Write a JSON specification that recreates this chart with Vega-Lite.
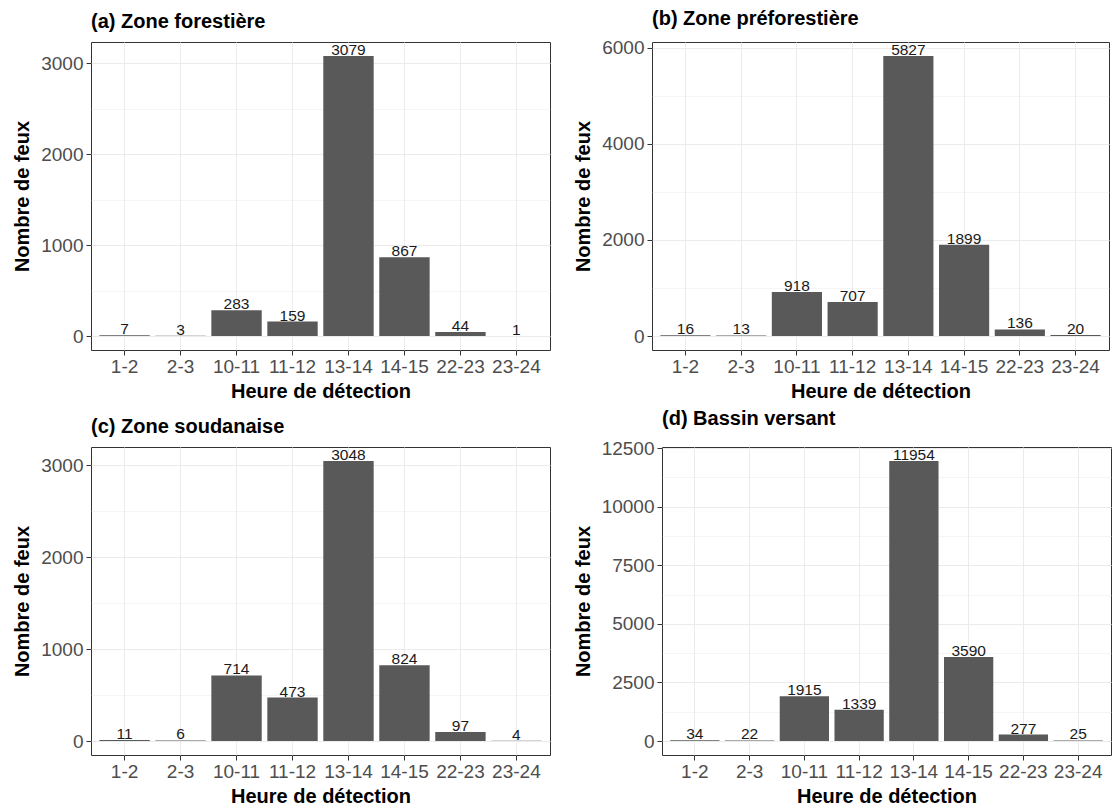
{
  "$schema": "https://vega.github.io/schema/vega-lite/v6.json",
  "padding": {"left": 12, "top": 8, "right": 0, "bottom": 2},
  "background": "white",
  "data": {"values": [
    {"panel": "a", "heure": "1-2", "n": 7}, {"panel": "a", "heure": "2-3", "n": 3}, {"panel": "a", "heure": "10-11", "n": 283}, {"panel": "a", "heure": "11-12", "n": 159},
    {"panel": "a", "heure": "13-14", "n": 3079}, {"panel": "a", "heure": "14-15", "n": 867}, {"panel": "a", "heure": "22-23", "n": 44}, {"panel": "a", "heure": "23-24", "n": 1},
    {"panel": "b", "heure": "1-2", "n": 16}, {"panel": "b", "heure": "2-3", "n": 13}, {"panel": "b", "heure": "10-11", "n": 918}, {"panel": "b", "heure": "11-12", "n": 707},
    {"panel": "b", "heure": "13-14", "n": 5827}, {"panel": "b", "heure": "14-15", "n": 1899}, {"panel": "b", "heure": "22-23", "n": 136}, {"panel": "b", "heure": "23-24", "n": 20},
    {"panel": "c", "heure": "1-2", "n": 11}, {"panel": "c", "heure": "2-3", "n": 6}, {"panel": "c", "heure": "10-11", "n": 714}, {"panel": "c", "heure": "11-12", "n": 473},
    {"panel": "c", "heure": "13-14", "n": 3048}, {"panel": "c", "heure": "14-15", "n": 824}, {"panel": "c", "heure": "22-23", "n": 97}, {"panel": "c", "heure": "23-24", "n": 4},
    {"panel": "d", "heure": "1-2", "n": 34}, {"panel": "d", "heure": "2-3", "n": 22}, {"panel": "d", "heure": "10-11", "n": 1915}, {"panel": "d", "heure": "11-12", "n": 1339},
    {"panel": "d", "heure": "13-14", "n": 11954}, {"panel": "d", "heure": "14-15", "n": 3590}, {"panel": "d", "heure": "22-23", "n": 277}, {"panel": "d", "heure": "23-24", "n": 25}
  ]},
  "spacing": 6,
  "vconcat": [
    {"spacing": 22, "hconcat": [
      {
        "title": {"text": "(a) Zone forestière"},
        "width": 459, "height": 308,
        "transform": [{"filter": "datum.panel === 'a'"}],
        "resolve": {"axis": {"y": "independent"}},
        "layer": [
          {"mark": {"type": "bar", "color": "#595959"},
           "encoding": {
             "x": {"field": "heure", "type": "nominal", "sort": ["1-2","2-3","10-11","11-12","13-14","14-15","22-23","23-24"], "scale": {"paddingInner": 0.1, "paddingOuter": 0.15}, "title": "Heure de détection"},
             "y": {"field": "n", "type": "quantitative", "scale": {"domain": [-153.95, 3232.95], "nice": false, "zero": false}, "axis": {"values": [0, 1000, 2000, 3000], "format": "d"}, "title": "Nombre de feux"},
             "y2": {"datum": 0}}},
          {"mark": {"type": "text", "baseline": "alphabetic", "dy": -1, "fontSize": 15.5, "font": "Liberation Sans", "color": "#1a1a1a"},
           "encoding": {
             "x": {"field": "heure", "type": "nominal", "sort": ["1-2","2-3","10-11","11-12","13-14","14-15","22-23","23-24"]},
             "y": {"field": "n", "type": "quantitative", "axis": {"orient": "right", "values": [500, 1500, 2500], "labels": false, "ticks": false, "domain": false, "title": null, "grid": true, "gridWidth": 0.5}},
             "text": {"field": "n", "type": "quantitative"}}}
        ]
      },
      {
        "title": {"text": "(b) Zone préforestière"},
        "width": 457, "height": 308,
        "transform": [{"filter": "datum.panel === 'b'"}],
        "resolve": {"axis": {"y": "independent"}},
        "layer": [
          {"mark": {"type": "bar", "color": "#595959"},
           "encoding": {
             "x": {"field": "heure", "type": "nominal", "sort": ["1-2","2-3","10-11","11-12","13-14","14-15","22-23","23-24"], "scale": {"paddingInner": 0.1, "paddingOuter": 0.15}, "title": "Heure de détection"},
             "y": {"field": "n", "type": "quantitative", "scale": {"domain": [-291.35, 6118.35], "nice": false, "zero": false}, "axis": {"values": [0, 2000, 4000, 6000], "format": "d"}, "title": "Nombre de feux"},
             "y2": {"datum": 0}}},
          {"mark": {"type": "text", "baseline": "alphabetic", "dy": -1, "fontSize": 15.5, "font": "Liberation Sans", "color": "#1a1a1a"},
           "encoding": {
             "x": {"field": "heure", "type": "nominal", "sort": ["1-2","2-3","10-11","11-12","13-14","14-15","22-23","23-24"]},
             "y": {"field": "n", "type": "quantitative", "axis": {"orient": "right", "values": [1000, 3000, 5000], "labels": false, "ticks": false, "domain": false, "title": null, "grid": true, "gridWidth": 0.5}},
             "text": {"field": "n", "type": "quantitative"}}}
        ]
      }
    ]},
    {"spacing": 21, "hconcat": [
      {
        "title": {"text": "(c) Zone soudanaise"},
        "width": 459, "height": 308,
        "transform": [{"filter": "datum.panel === 'c'"}],
        "resolve": {"axis": {"y": "independent"}},
        "layer": [
          {"mark": {"type": "bar", "color": "#595959"},
           "encoding": {
             "x": {"field": "heure", "type": "nominal", "sort": ["1-2","2-3","10-11","11-12","13-14","14-15","22-23","23-24"], "scale": {"paddingInner": 0.1, "paddingOuter": 0.15}, "title": "Heure de détection"},
             "y": {"field": "n", "type": "quantitative", "scale": {"domain": [-152.4, 3200.4], "nice": false, "zero": false}, "axis": {"values": [0, 1000, 2000, 3000], "format": "d"}, "title": "Nombre de feux"},
             "y2": {"datum": 0}}},
          {"mark": {"type": "text", "baseline": "alphabetic", "dy": -1, "fontSize": 15.5, "font": "Liberation Sans", "color": "#1a1a1a"},
           "encoding": {
             "x": {"field": "heure", "type": "nominal", "sort": ["1-2","2-3","10-11","11-12","13-14","14-15","22-23","23-24"]},
             "y": {"field": "n", "type": "quantitative", "axis": {"orient": "right", "values": [500, 1500, 2500], "labels": false, "ticks": false, "domain": false, "title": null, "grid": true, "gridWidth": 0.5}},
             "text": {"field": "n", "type": "quantitative"}}}
        ]
      },
      {
        "title": {"text": "(d) Bassin versant"},
        "width": 449, "height": 308,
        "transform": [{"filter": "datum.panel === 'd'"}],
        "resolve": {"axis": {"y": "independent"}},
        "layer": [
          {"mark": {"type": "bar", "color": "#595959"},
           "encoding": {
             "x": {"field": "heure", "type": "nominal", "sort": ["1-2","2-3","10-11","11-12","13-14","14-15","22-23","23-24"], "scale": {"paddingInner": 0.1, "paddingOuter": 0.15}, "title": "Heure de détection"},
             "y": {"field": "n", "type": "quantitative", "scale": {"domain": [-597.7, 12551.7], "nice": false, "zero": false}, "axis": {"values": [0, 2500, 5000, 7500, 10000, 12500], "format": "d"}, "title": "Nombre de feux"},
             "y2": {"datum": 0}}},
          {"mark": {"type": "text", "baseline": "alphabetic", "dy": -1, "fontSize": 15.5, "font": "Liberation Sans", "color": "#1a1a1a"},
           "encoding": {
             "x": {"field": "heure", "type": "nominal", "sort": ["1-2","2-3","10-11","11-12","13-14","14-15","22-23","23-24"]},
             "y": {"field": "n", "type": "quantitative", "axis": {"orient": "right", "values": [1250, 3750, 6250, 8750, 11250], "labels": false, "ticks": false, "domain": false, "title": null, "grid": true, "gridWidth": 0.5}},
             "text": {"field": "n", "type": "quantitative"}}}
        ]
      }
    ]}
  ],
  "config": {
    "font": "Liberation Sans",
    "view": {"stroke": "#333333", "strokeWidth": 1},
    "title": {"anchor": "start", "frame": "group", "fontSize": 20, "fontWeight": "bold", "font": "Liberation Sans", "color": "#000000", "offset": 10},
    "axis": {
      "labelFont": "Liberation Sans", "labelFontSize": 19, "labelColor": "#4d4d4d",
      "titleFont": "Liberation Sans", "titleFontSize": 20, "titleFontWeight": "bold", "titleColor": "#000000",
      "tickColor": "#333333", "tickSize": 5, "domain": false,
      "gridColor": "#ebebeb", "gridWidth": 1, "labelPadding": 3
    },
    "axisX": {"labelAngle": 0, "labelOverlap": false, "bandPosition": 0.5, "titlePadding": 5, "labelPadding": 2, "grid": true},
    "axisY": {"titlePadding": 8}
  }
}
